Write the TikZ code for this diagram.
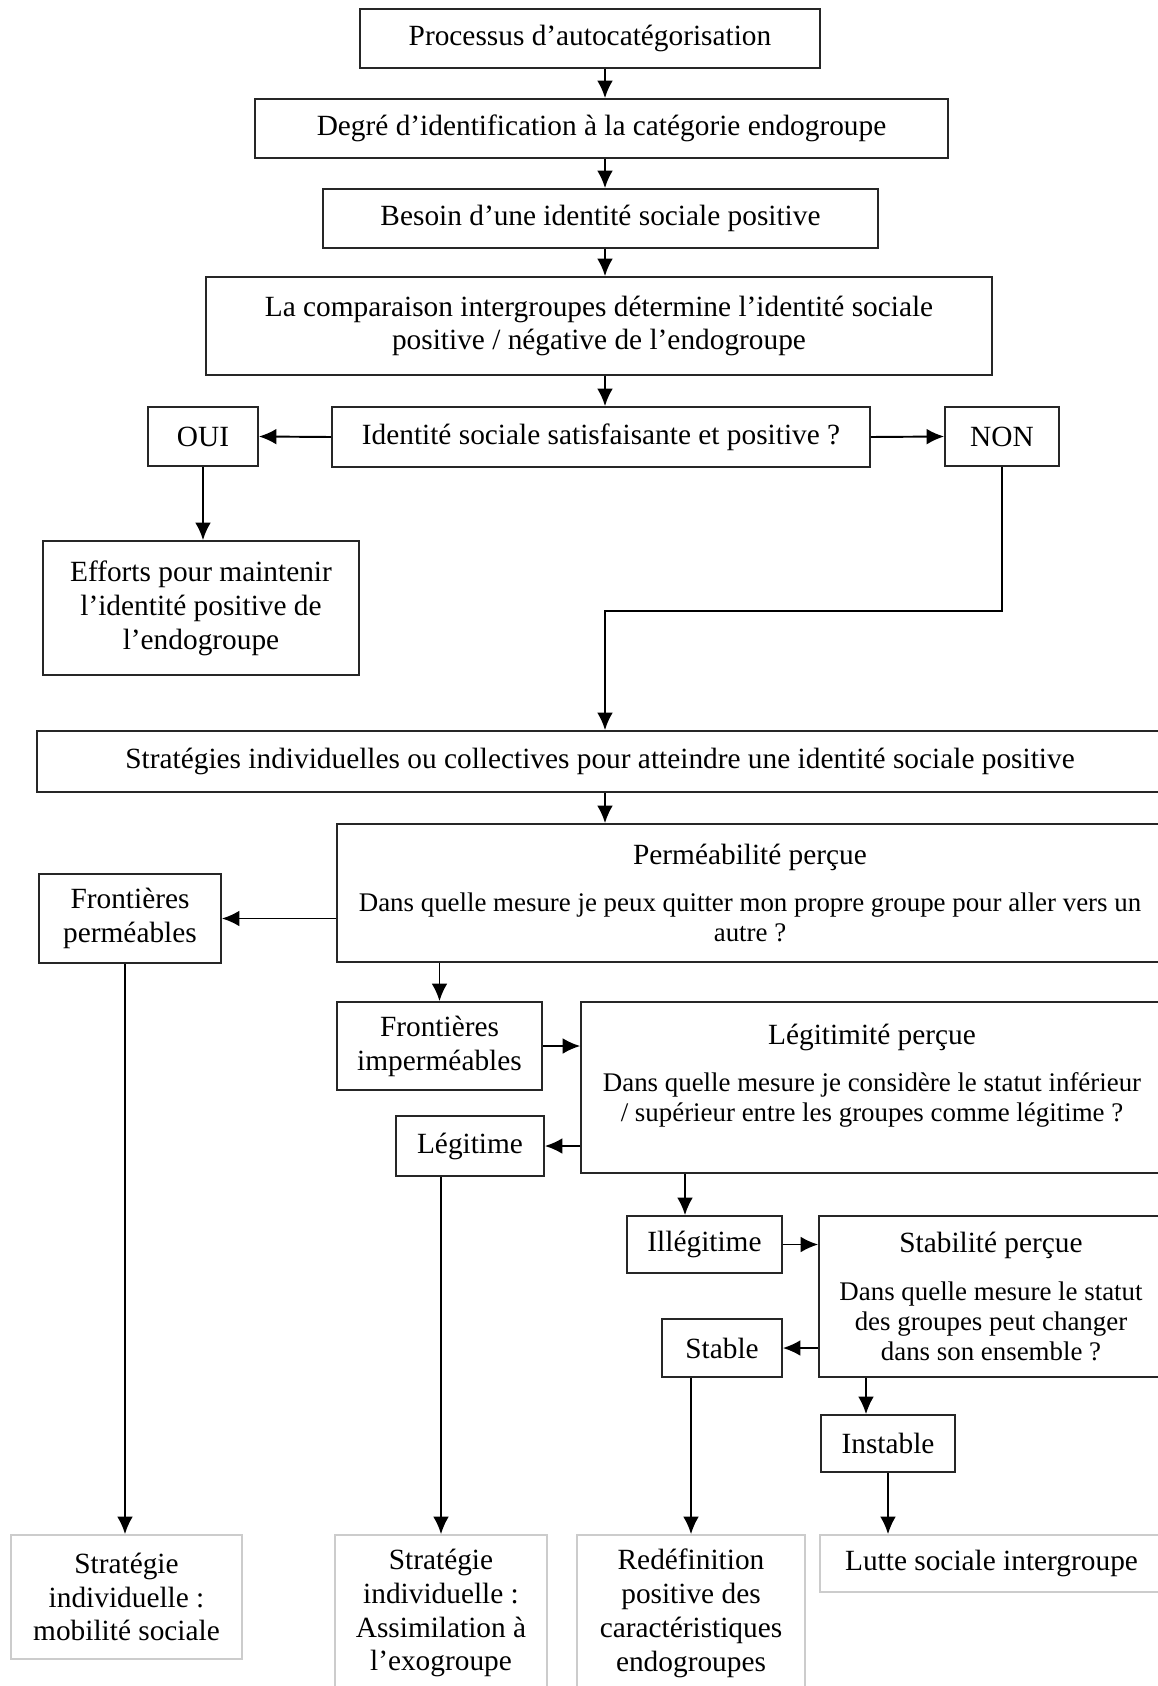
\documentclass[tikz,border=0pt]{standalone}
\usepackage{fontspec}
\setmainfont{Liberation Serif}
\usetikzlibrary{arrows.meta}
\newcommand\qfont{\fontsize{15.3}{17}\selectfont}
\tikzset{box/.style = {draw=black!85, rectangle, align=center, inner sep=0, line width=1pt, font=\fontsize{16.7}{19.3}\selectfont}}
\tikzset{lowbox/.style = {box, draw=gray!40}}
\tikzset{arr/.style = {-{Latex[length=10pt,width=9pt]}, line width=1.1pt}}

\begin{document}
\begin{tikzpicture}[x=0.02cm, y=-0.02cm]
        \useasboundingbox (0,0) rectangle (1158,1686);
        \coordinate (mid) at (605,0);
        \coordinate (xa) at (685,0);
        \coordinate (xb) at (866,0);
        \coordinate (xc) at (125,0);
        \coordinate (nonbend) at (605,611);

        \node[box, minimum width=9.2cm, minimum height=1.18cm] (proc) at (590,38.5) {Processus d’autocatégorisation};
        \node[box, minimum width=13.86cm, minimum height=1.18cm] (deg) at (601.5,128.5) {Degré d’identification à la catégorie endogroupe};
        \node[box, minimum width=11.1cm, minimum height=1.18cm] (besoin) at (600.5,218.5) {Besoin d’une identité sociale positive};
        \node[box, minimum width=15.72cm, minimum height=1.96cm] (comp) at (599,326) {La comparaison intergroupes détermine l’identité sociale\\positive / négative de l’endogroupe};
        \node[box, minimum width=10.76cm, minimum height=1.2cm] (ident) at (601,437) {Identité sociale satisfaisante et positive ?};
        \node[box, minimum width=2.2cm, minimum height=1.18cm] (oui) at (203,436.5) {OUI};
        \node[box, minimum width=2.28cm, minimum height=1.18cm] (non) at (1002,436.5) {NON};
        \node[box, minimum width=6.32cm, minimum height=2.68cm] (efforts) at (201,608) {Efforts pour maintenir\\l’identité positive de\\l’endogroupe};
        \node[box, minimum width=22.52cm, minimum height=1.22cm] (strat) at (600,761.5) {Stratégies individuelles ou collectives pour atteindre une identité sociale positive};
        \node[box, minimum width=16.52cm, minimum height=2.76cm] (perm) at (750,893) {Perméabilité perçue\\[7.8pt]\qfont Dans quelle mesure je peux quitter mon propre groupe pour aller vers un\\[-2.3pt]\qfont autre ?};
        \node[box, minimum width=3.64cm, minimum height=1.78cm] (fperm) at (130,918.5) {Frontières\\perméables};
        \node[box, minimum width=4.1cm, minimum height=1.76cm] (fimp) at (439.5,1046) {Frontières\\imperméables};
        \node[box, minimum width=11.64cm, minimum height=3.42cm] (legit) at (872,1087.5) {Légitimité perçue\\[7.8pt]\qfont Dans quelle mesure je considère le statut inférieur\\[-2.3pt]\qfont / supérieur entre les groupes comme légitime ?\\[-2.3pt] \mbox{}};
        \node[box, minimum width=2.96cm, minimum height=1.2cm] (legitime) at (470,1146) {Légitime};
        \node[box, minimum width=3.1cm, minimum height=1.14cm] (illeg) at (704.5,1244.5) {Illégitime};
        \node[box, minimum width=6.88cm, minimum height=3.22cm] (stab) at (991,1296.5) {Stabilité perçue\\[7.8pt]\qfont Dans quelle mesure le statut\\[-2.3pt]\qfont des groupes peut changer\\[-2.3pt]\qfont dans son ensemble ?};
        \node[box, minimum width=2.4cm, minimum height=1.16cm] (stable) at (722,1348) {Stable};
        \node[box, minimum width=2.68cm, minimum height=1.14cm] (instable) at (888,1443.5) {Instable};
        \node[lowbox, minimum width=4.62cm, minimum height=2.48cm] (mobil) at (126.5,1597) {Stratégie\\individuelle :\\mobilité sociale};
        \node[lowbox, minimum width=4.24cm, minimum height=3.12cm] (assim) at (441,1613) {Stratégie\\individuelle :\\Assimilation à\\l’exogroupe};
        \node[lowbox, minimum width=4.56cm, minimum height=3.12cm] (redef) at (691,1613) {Redéfinition\\positive des\\caractéristiques\\endogroupes};
        \node[lowbox, minimum width=6.86cm, minimum height=1.14cm] (lutte) at (991.5,1563.5) {Lutte sociale intergroupe};

        \draw[arr] (proc.south -| mid) -- (deg.north -| mid);
        \draw[arr] (deg.south -| mid) -- (besoin.north -| mid);
        \draw[arr] (besoin.south -| mid) -- (comp.north -| mid);
        \draw[arr] (comp.south -| mid) -- (ident.north -| mid);
        \draw[arr] (ident.west) -- (oui.east);
        \draw[arr] (ident.east) -- (non.west);
        \draw[arr] (oui.south) -- (oui.south |- efforts.north);
        \draw[arr] (non.south) |- (nonbend) -- (strat.north -| nonbend);
        \draw[arr] (strat.south -| mid) -- (perm.north -| mid);
        \draw[arr] (perm.west |- fperm.east) -- (fperm.east);
        \draw[arr] (perm.south -| fimp.north) -- (fimp.north);
        \draw[arr] (fimp.east) -- (fimp.east -| legit.west);
        \draw[arr] (legit.west |- legitime.east) -- (legitime.east);
        \draw[arr] (legit.south -| xa) -- (illeg.north -| xa);
        \draw[arr] (illeg.east) -- (illeg.east -| stab.west);
        \draw[arr] (stab.west |- stable.east) -- (stable.east);
        \draw[arr] (stab.south -| xb) -- (instable.north -| xb);
        \draw[arr] (fperm.south -| xc) -- (mobil.north -| xc);
        \draw[arr] (legitime.south -| assim.north) -- (assim.north);
        \draw[arr] (stable.south -| redef.north) -- (redef.north);
        \draw[arr] (instable.south) -- (instable.south |- lutte.north);
    \end{tikzpicture}
\end{document}
